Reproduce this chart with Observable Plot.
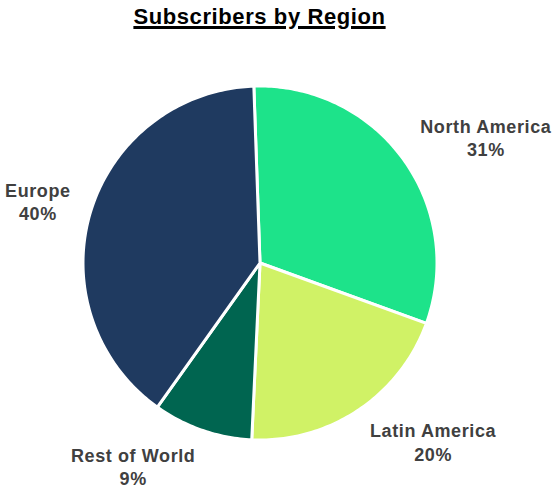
<!DOCTYPE html>
<html>
<head>
<meta charset="utf-8">
<script src="https://cdn.jsdelivr.net/npm/d3@7"></script>
<script src="https://cdn.jsdelivr.net/npm/@observablehq/plot@0.6"></script>
<style>
  html, body { margin: 0; padding: 0; background: #fff; }
  #title { width: 519px; height: 36px; text-align: center; font-family: "Liberation Sans", Arial, sans-serif;
           font-weight: bold; font-size: 22px; letter-spacing: 0.6px; text-decoration: underline;
           text-decoration-thickness: 2.5px; text-underline-offset: 2px; color: #000; line-height: 34px; }
</style>
</head>
<body>
<div id="title">Subscribers by Region</div>
<div id="chart"></div>
<script>
const regions = ["North America", "Latin America", "Rest of World", "Europe"];
const shares = [31.1, 20.2, 9.1, 39.6];
const colors = ["#1de38a", "#d0f266", "#006550", "#1f3a60"];

const W = 559, H = 456, CX = 259.5, CY = 226.5, R = 177;
const startDeg = -2;
const FS = 18, LS = 0.6;

const pie = d3.pie().sort(null).value(d => d.value).startAngle(startDeg * Math.PI / 180)
  .endAngle((startDeg + 360) * Math.PI / 180);
const data = regions.map((r, i) => ({ region: r, value: shares[i], color: colors[i] }));
const arcs = pie(data);

// slice outlines sampled along the arc (angle measured clockwise from 12 o'clock)
const pts = [];
arcs.forEach(a => {
  pts.push({ region: a.data.region, x: 0, y: 0 });
  const n = Math.max(8, Math.ceil((a.endAngle - a.startAngle) * 60));
  for (let k = 0; k <= n; k++) {
    const t = a.startAngle + (a.endAngle - a.startAngle) * k / n;
    pts.push({ region: a.data.region, x: Math.sin(t), y: Math.cos(t) });
  }
});

// text widths for centering the two-line labels
const ctx = document.createElement("canvas").getContext("2d");
ctx.font = `bold ${FS}px 'Liberation Sans', Arial, sans-serif`;
const tw = s => ctx.measureText(s).width + LS * s.length;
const labelR = 1.117, halfH = 17;
const labels = arcs.map(a => {
  const m = (a.startAngle + a.endAngle) / 2;
  const pct = Math.round(a.data.value) + "%";
  const w = Math.max(tw(a.data.region), tw(pct));
  const s = Math.sin(m), c = Math.cos(m);
  const side = s >= 0 ? 1 : -1;
  return {
    text: a.data.region + "\n" + pct,
    x: labelR * s + side * (w / 2) / R,
    y: labelR * c + c * halfH / R
  };
});

const chart = Plot.plot({
  width: W, height: H,
  margin: 0,
  x: { domain: [-CX / R, (W - CX) / R], axis: null },
  y: { domain: [-(H - CY) / R, CY / R], axis: null },
  color: { domain: regions, range: colors },
  marks: [
    Plot.line(pts, { x: "x", y: "y", z: "region", fill: "region", stroke: "white", strokeWidth: 3,
      curve: "linear-closed", strokeLinejoin: "round" }),
    Plot.text(labels, { x: "x", y: "y", text: "text", textAnchor: "middle", lineAnchor: "middle",
      fontSize: FS, fontWeight: "bold", fill: "#404040", lineHeight: 1.3,
      style: { letterSpacing: LS + "px" } })
  ],
  style: { fontFamily: "'Liberation Sans', Arial, sans-serif", background: "white", overflow: "visible",
    letterSpacing: LS + "px" }
});
document.getElementById("chart").appendChild(chart);
</script>
</body>
</html>
